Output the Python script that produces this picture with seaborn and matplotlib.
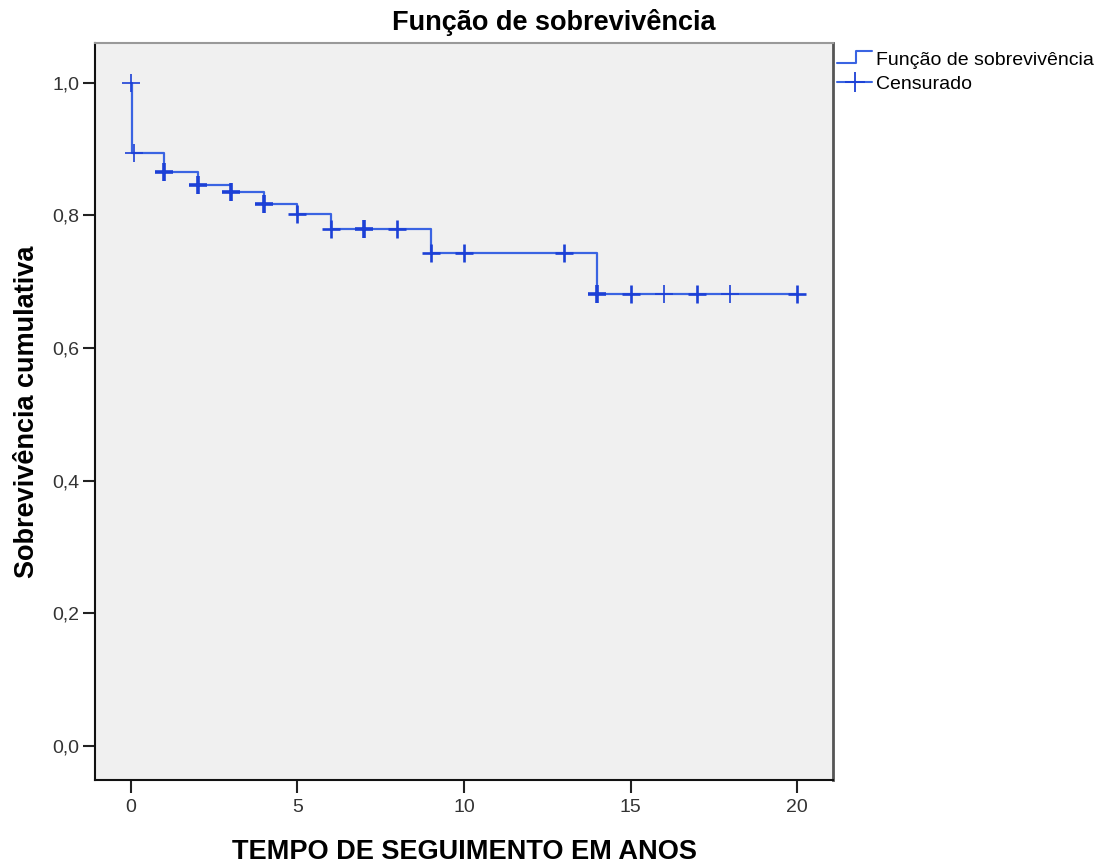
import numpy as np
import pandas as pd
import seaborn as sns
import matplotlib.pyplot as plt
from matplotlib.lines import Line2D
from matplotlib.legend_handler import HandlerBase
from matplotlib.ticker import FuncFormatter

###### data ######
step_times = [0.0, 0.03, 1.0, 2.0, 3.0, 4.0, 5.0, 6.0, 9.0, 14.0, 20.0]
step_surv = [1.0, 0.894, 0.866, 0.846, 0.835, 0.818, 0.802, 0.780, 0.744, 0.682, 0.682]

censor_times = [0.0, 0.1, 1.0, 2.0, 3.0, 4.0, 5.0, 6.0, 7.0, 8.0,
                9.0, 10.0, 13.0, 14.0, 15.0, 16.0, 17.0, 18.0, 20.0]
censor_counts = [1, 1, 3, 3, 3, 3, 2, 2, 3, 2,
                 2, 2, 2, 3, 2, 1, 2, 1, 2]

x_ticks = [0, 5, 10, 15, 20]
y_ticks = [0.0, 0.2, 0.4, 0.6, 0.8, 1.0]

title = 'Função de sobrevivência'
xlabel = 'TEMPO DE SEGUIMENTO EM ANOS'
ylabel = 'Sobrevivência cumulativa'
legend_labels = ['Função de sobrevivência', 'Censurado']

curve = pd.DataFrame({'t': step_times, 's': step_surv})
idx = np.searchsorted(step_times, censor_times, side='right') - 1
cens = pd.DataFrame({'t': censor_times,
                     's': np.array(step_surv)[idx],
                     'n': censor_counts})

###### style ######
sns.set_style('ticks', {'axes.facecolor': '#f0f0f0'})
plt.rcParams['font.family'] = ['Liberation Sans', 'DejaVu Sans']
plt.rcParams['text.color'] = 'black'
plt.rcParams['axes.labelcolor'] = 'black'

line_col = '#3a64e2'
mark_col = '#1c40d6'

fig = plt.figure(figsize=(11.07, 8.63), dpi=100)
ax = fig.add_axes([95 / 1107, 1 - 780 / 863, (833 - 95) / 1107, (780 - 43) / 863])

sns.lineplot(data=curve, x='t', y='s', drawstyle='steps-post', color=line_col,
             linewidth=1.6, estimator=None, sort=False, ax=ax)

for n, grp in cens.groupby('n'):
    sns.scatterplot(data=grp, x='t', y='s', marker='+', s=150,
                    color=mark_col, linewidth=1.2 + 0.7 * (n - 1), ax=ax, zorder=3)

ax.set_xlim(-1.08, 21.08)
ax.set_ylim(-0.051, 1.06)
ax.set_xticks(x_ticks)
ax.set_yticks(y_ticks)
ax.yaxis.set_major_formatter(FuncFormatter(lambda v, p: f'{v:.1f}'.replace('.', ',')))
ax.tick_params(axis='both', length=9, width=1.5, color='#222222',
               labelsize=14, labelcolor='#333333', pad=2)
ax.tick_params(axis='x', pad=5)

for side in ['left', 'bottom']:
    ax.spines[side].set_color('#111111')
    ax.spines[side].set_linewidth(1.5)
ax.spines['top'].set_color('#999999')
ax.spines['top'].set_linewidth(1.5)
ax.spines['right'].set_color('#555555')
ax.spines['right'].set_linewidth(2)

ax.set_xlabel(xlabel, fontsize=19.5, fontweight='bold', labelpad=16)
ax.set_ylabel(ylabel, fontsize=19.5, fontweight='bold', labelpad=9)
fig.suptitle(title, x=0.5, y=1 - 9 / 863, va='top', fontsize=19.5, fontweight='bold')


###### legend ######
class StepHandler(HandlerBase):
    def create_artists(self, legend, orig_handle, xdescent, ydescent,
                       width, height, fontsize, trans):
        x0, y0 = -xdescent, -ydescent
        xs = [x0, x0 + width * 0.55, x0 + width * 0.55, x0 + width]
        ys = [y0 + height * 0.1, y0 + height * 0.1, y0 + height * 1.0, y0 + height * 1.0]
        ln = Line2D(xs, ys, color=line_col, lw=1.5, transform=trans)
        return [ln]


h_step = Line2D([], [], color=line_col)
h_cens = Line2D([], [], color=line_col, lw=1.5, marker='+', markersize=15,
                markeredgewidth=1.3, markeredgecolor=mark_col)
ax.legend([h_step, h_cens], legend_labels, handler_map={h_step: StepHandler()},
          loc='upper left', bbox_to_anchor=(837 / 1107, 1 - 51 / 863),
          bbox_transform=fig.transFigure, frameon=False, fontsize=14,
          handlelength=1.8, handletextpad=0.2, borderpad=0, borderaxespad=0,
          labelspacing=0.35, numpoints=1)

fig.savefig('out.png', dpi=100)
